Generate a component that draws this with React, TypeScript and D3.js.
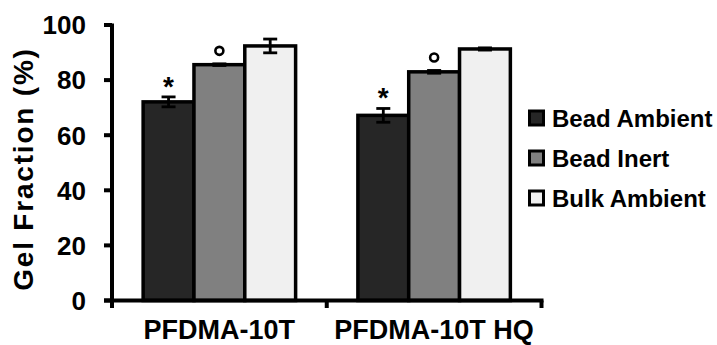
import React from 'react';
import * as d3 from 'd3';

const categories = ['PFDMA-10T', 'PFDMA-10T HQ'];
const seriesNames = ['Bead Ambient', 'Bead Inert', 'Bulk Ambient'];
const seriesColors = ['#262626', '#808080', '#f0f0f0'];

const beadAmbient = [72.1, 67.2];
const beadAmbientErr = [1.8, 2.5];
const beadInert = [85.6, 83.0];
const beadInertErr = [0.3, 0.5];
const bulkAmbient = [92.4, 91.3];
const bulkAmbientErr = [2.5, 0.4];

// significance marks drawn above each series ('' = none)
const seriesMarks = ['*', 'o', ''];

const yTicks = [0, 20, 40, 60, 80, 100];

const W = 717;
const H = 345;
const FONT = 'Arial, "Liberation Sans", sans-serif';

const App: React.FC = () => {
  const values = [beadAmbient, beadInert, bulkAmbient];
  const errors = [beadAmbientErr, beadInertErr, bulkAmbientErr];

  const x0 = 112;
  const x1 = 541.5;

  const y = d3.scaleLinear().domain([0, 100]).range([300.5, 25]);

  const xBand = d3.scaleBand<string>()
    .domain(categories)
    .range([x0, x1])
    .paddingInner(0)
    .paddingOuter(0);

  const inner = d3.scaleBand<string>()
    .domain(seriesNames)
    .range([0, xBand.bandwidth() * 0.71]);

  const groupOffset = (xBand.bandwidth() - xBand.bandwidth() * 0.71) / 2;

  const bars = categories.flatMap((c, ci) =>
    seriesNames.map((s, si) => ({
      c, s, si,
      v: values[si][ci],
      e: errors[si][ci],
      x: (xBand(c) || 0) + groupOffset + (inner(s) || 0),
    }))
  );

  const bw = inner.bandwidth();
  const axisTicksX = [x0, ...categories.map(c => (xBand(c) || 0) + xBand.bandwidth())];

  return (
    <svg width={W} height={H} style={{ position: 'absolute', left: 0, top: 0, background: '#fff' }} fontFamily={FONT}>
      {/* bars */}
      {bars.map(b => (
        <rect key={`${b.c}-${b.s}`}
          x={b.x} y={y(b.v)} width={bw} height={y(0) - y(b.v)}
          fill={seriesColors[b.si]} stroke="#000" strokeWidth={3.5} />
      ))}

      {/* error bars */}
      {bars.map(b => {
        const cx = b.x + bw / 2;
        return (
          <g key={`err-${b.c}-${b.s}`} stroke="#000" strokeWidth={2.8}>
            <line x1={cx} x2={cx} y1={y(b.v + b.e)} y2={y(b.v - b.e)} />
            <line x1={cx - 7} x2={cx + 7} y1={y(b.v + b.e)} y2={y(b.v + b.e)} />
            <line x1={cx - 7} x2={cx + 7} y1={y(b.v - b.e)} y2={y(b.v - b.e)} />
          </g>
        );
      })}

      {/* significance marks */}
      {bars.map(b => {
        const mark = seriesMarks[b.si];
        const cx = b.x + bw / 2;
        const top = y(b.v + b.e);
        if (mark === '*') {
          return (
            <text key={`m-${b.c}-${b.s}`} x={cx} y={top - 1} textAnchor="middle"
              fontSize={28} fontWeight="bold" fill="#000">*</text>
          );
        }
        if (mark === 'o') {
          return (
            <circle key={`m-${b.c}-${b.s}`} cx={cx} cy={top - 13} r={4}
              fill="none" stroke="#000" strokeWidth={2.6} />
          );
        }
        return null;
      })}

      {/* y axis */}
      <line x1={x0} x2={x0} y1={y(100) - 1.5} y2={308} stroke="#000" strokeWidth={4} />
      {yTicks.map(t => (
        <g key={`yt-${t}`}>
          <line x1={104} x2={x0} y1={y(t)} y2={y(t)} stroke="#000" strokeWidth={4} />
          <text x={86} y={y(t)} dy="0.36em" textAnchor="end" fontSize={26} fontWeight="bold" fill="#000">{t}</text>
        </g>
      ))}

      {/* x axis */}
      <line x1={104} x2={x1 + 2} y1={y(0)} y2={y(0)} stroke="#000" strokeWidth={4} />
      {axisTicksX.map((tx, i) => (
        <line key={`xt-${i}`} x1={tx} x2={tx} y1={y(0)} y2={308} stroke="#000" strokeWidth={4} />
      ))}
      {categories.map(c => (
        <text key={`xl-${c}`} x={(xBand(c) || 0) + xBand.bandwidth() / 2} y={339}
          textAnchor="middle" fontSize={27} fontWeight="bold" fill="#000">{c}</text>
      ))}

      {/* y label */}
      <text transform="translate(33,169) rotate(-90)" textAnchor="middle"
        fontSize={28} fontWeight="bold" letterSpacing={1.8} fill="#000">Gel Fraction (%)</text>

      {/* legend */}
      {seriesNames.map((s, i) => {
        const cy = 118 + i * 40;
        return (
          <g key={`lg-${s}`}>
            <rect x={529.5} y={cy - 7} width={14} height={14}
              fill={seriesColors[i]} stroke="#000" strokeWidth={3} />
            <text x={552} y={cy} dy="0.36em" fontSize={24} fontWeight="bold" fill="#000">{s}</text>
          </g>
        );
      })}
    </svg>
  );
};

export default App;
